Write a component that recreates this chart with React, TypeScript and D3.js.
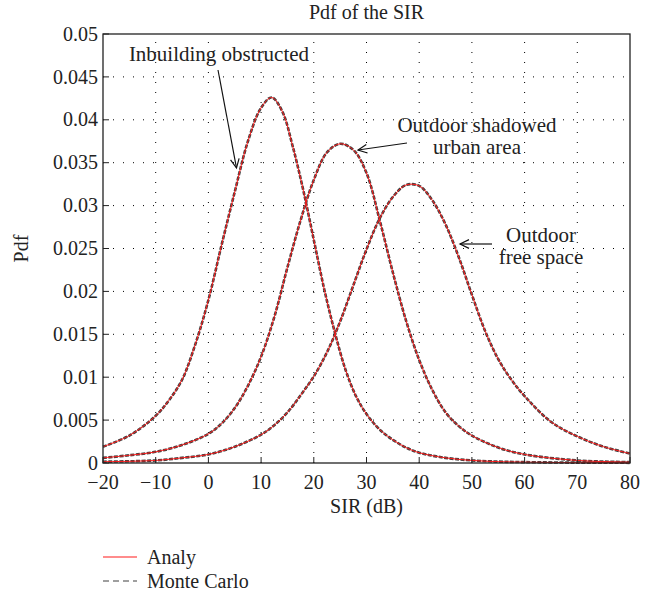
import React from "react";
import * as d3 from "d3";

// ---- data ----
const sirTicks = [-20, -10, 0, 10, 20, 30, 40, 50, 60, 70, 80];
const pdfTicks = [0, 0.005, 0.01, 0.015, 0.02, 0.025, 0.03, 0.035, 0.04, 0.045, 0.05];

const inbuildingSir = [-20, -15, -10, -7.5, -5, -2.5, 0, 2.5, 5, 7.5, 10, 12, 14, 16, 18, 20, 22, 24, 26, 28, 30, 32.5, 35, 37.5, 40, 45, 50, 55, 60, 70, 80];
const inbuildingPdf = [0.0019, 0.0032, 0.0055, 0.0073, 0.0097, 0.0138, 0.019, 0.0254, 0.0316, 0.0375, 0.0414, 0.0426, 0.041, 0.0369, 0.0318, 0.026, 0.0202, 0.0152, 0.0109, 0.0078, 0.0057, 0.0039, 0.0027, 0.0018, 0.0012, 0.0006, 0.0003, 0.00016, 0.0001, 0.00004, 0.00002];

const shadowedSir = [-20, -15, -10, -5, 0, 2.5, 5, 7.5, 10, 12.5, 15, 17.5, 20, 22.5, 25, 27.5, 30, 32.5, 35, 37.5, 40, 42.5, 45, 47.5, 50, 55, 60, 70, 80];
const shadowedPdf = [0.0006, 0.0009, 0.0013, 0.0021, 0.0034, 0.0046, 0.0064, 0.009, 0.0124, 0.017, 0.0228, 0.0283, 0.033, 0.0362, 0.0372, 0.0365, 0.0338, 0.0283, 0.0222, 0.0166, 0.012, 0.0085, 0.0059, 0.0043, 0.0032, 0.0018, 0.001, 0.0003, 0.0001];

const freeSpaceSir = [-20, -10, -5, 0, 5, 10, 12.5, 15, 17.5, 20, 22.5, 25, 27.5, 30, 32.5, 35, 37.5, 40, 42.5, 45, 47.5, 50, 52.5, 55, 57.5, 60, 65, 70, 75, 80];
const freeSpacePdf = [0.00015, 0.0003, 0.0006, 0.001, 0.0019, 0.0033, 0.0044, 0.0059, 0.0079, 0.0101, 0.0129, 0.0165, 0.0207, 0.0249, 0.0285, 0.031, 0.0324, 0.0323, 0.0306, 0.0278, 0.024, 0.0196, 0.0154, 0.0121, 0.0097, 0.0078, 0.0048, 0.0031, 0.0019, 0.0011];

const seriesNames = ["Analy", "Monte Carlo"];

// ---- layout ----
const W = 662;
const H = 600;
const M = { left: 103, right: 630, top: 34, bottom: 463 };
const FONT = "'Liberation Serif', 'Times New Roman', serif";

export default function App() {
  const x = d3.scaleLinear().domain([-20, 80]).range([M.left, M.right]);
  const y = d3.scaleLinear().domain([0, 0.05]).range([M.bottom, M.top]);
  const line = d3
    .line<[number, number]>()
    .x((d) => x(d[0]))
    .y((d) => y(d[1]))
    .curve(d3.curveCatmullRom.alpha(0.5));

  const curves = [
    d3.zip(inbuildingSir, inbuildingPdf) as [number, number][],
    d3.zip(shadowedSir, shadowedPdf) as [number, number][],
    d3.zip(freeSpaceSir, freeSpacePdf) as [number, number][],
  ];

  const fmtY = (v: number) => String(+v.toFixed(3));
  const fmtX = (v: number) => (v < 0 ? "\u2212" + Math.abs(v) : String(v));

  const arrowHead = (tx: number, ty: number, fx: number, fy: number) => {
    const a = Math.atan2(fy - ty, fx - tx);
    const L = 10;
    const s = 0.45;
    const p1 = [tx + L * Math.cos(a + s), ty + L * Math.sin(a + s)];
    const p2 = [tx + L * Math.cos(a - s), ty + L * Math.sin(a - s)];
    return `M${p1[0]},${p1[1]}L${tx},${ty}L${p2[0]},${p2[1]}`;
  };

  const arrows = [
    { fx: 218, fy: 70, tx: 236.5, ty: 168 },
    { fx: 407, fy: 143, tx: 358, ty: 150 },
    { fx: 492, fy: 244, tx: 460, ty: 244 },
  ];

  return (
    <svg
      width={W}
      height={H}
      style={{ position: "absolute", left: 0, top: 0, background: "#fff" }}
      fontFamily={FONT}
    >
      <rect x={0} y={0} width={W} height={H} fill="#fff" />
      {/* grid */}
      <g stroke="#000" strokeWidth={1} strokeDasharray="1,9">
        {sirTicks.slice(1, -1).map((t) => (
          <line key={"gx" + t} x1={x(t)} x2={x(t)} y1={M.bottom} y2={M.top} />
        ))}
        {pdfTicks.slice(1, -1).map((t) => (
          <line key={"gy" + t} x1={M.left} x2={M.right} y1={y(t)} y2={y(t)} />
        ))}
      </g>

      {/* curves: Monte Carlo dashed gray, analytic red on top */}
      {curves.map((c, i) => (
        <path
          key={"mc" + i}
          d={line(c) || ""}
          fill="none"
          stroke="#404040"
          strokeWidth={2.6}
          strokeDasharray="4,1.5"
        />
      ))}
      {curves.map((c, i) => (
        <path key={"an" + i} d={line(c) || ""} fill="none" stroke="#ff1a1a" strokeWidth={1} />
      ))}

      {/* axes box and ticks */}
      <rect
        x={M.left}
        y={M.top}
        width={M.right - M.left}
        height={M.bottom - M.top}
        fill="none"
        stroke="#222"
        strokeWidth={1.3}
      />
      <g stroke="#222" strokeWidth={1}>
        {sirTicks.map((t) => (
          <line key={"tx" + t} x1={x(t)} x2={x(t)} y1={M.bottom} y2={M.bottom - 6} />
        ))}
        {pdfTicks.map((t) => (
          <line key={"ty" + t} x1={M.left} x2={M.left + 6} y1={y(t)} y2={y(t)} />
        ))}
      </g>

      {/* tick labels */}
      <g fontSize={20} fill="#222">
        {sirTicks.map((t) => (
          <text key={"lx" + t} x={x(t)} y={M.bottom + 26} textAnchor="middle">
            {fmtX(t)}
          </text>
        ))}
        {pdfTicks.map((t) => (
          <text key={"ly" + t} x={M.left - 5} y={y(t)} dy="0.33em" textAnchor="end">
            {fmtY(t)}
          </text>
        ))}
      </g>

      {/* titles */}
      <text x={(M.left + M.right) / 2} y={19} textAnchor="middle" fontSize={20} fill="#222">
        Pdf of the SIR
      </text>
      <text x={(M.left + M.right) / 2} y={513} textAnchor="middle" fontSize={20} fill="#222">
        SIR (dB)
      </text>
      <text
        transform={`translate(28,${(M.top + M.bottom) / 2}) rotate(-90)`}
        textAnchor="middle"
        fontSize={20}
        fill="#222"
      >
        Pdf
      </text>

      {/* annotations */}
      <g fontSize={21} fill="#222">
        <text x={219} y={61} textAnchor="middle">Inbuilding obstructed</text>
        <text x={477} y={132} textAnchor="middle">Outdoor shadowed</text>
        <text x={477} y={154} textAnchor="middle">urban area</text>
        <text x={541} y={242} textAnchor="middle">Outdoor</text>
        <text x={541} y={264} textAnchor="middle">free space</text>
      </g>
      <g stroke="#111" strokeWidth={1.2} fill="none">
        {arrows.map((a, i) => (
          <g key={"ar" + i}>
            <line x1={a.fx} y1={a.fy} x2={a.tx} y2={a.ty} />
            <path d={arrowHead(a.tx, a.ty, a.fx, a.fy)} />
          </g>
        ))}
      </g>

      {/* legend */}
      <g fontSize={20} fill="#222">
        <line x1={103} x2={137} y1={557} y2={557} stroke="#ff1a1a" strokeWidth={1.2} />
        <text x={147} y={557} dy="0.33em">{seriesNames[0]}</text>
        <line x1={103} x2={137} y1={581} y2={581} stroke="#404040" strokeWidth={1.2} strokeDasharray="6,4" />
        <text x={147} y={581} dy="0.33em">{seriesNames[1]}</text>
      </g>
    </svg>
  );
}
